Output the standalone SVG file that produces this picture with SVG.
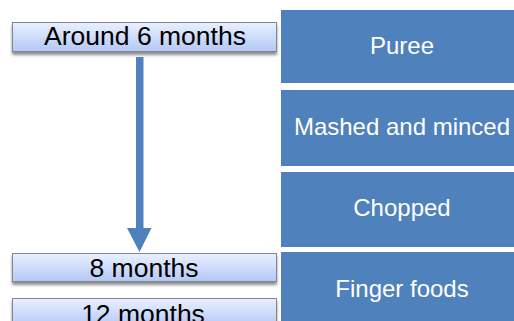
<svg xmlns="http://www.w3.org/2000/svg" width="514" height="321" viewBox="0 0 514 321">
<defs>
<linearGradient id="lg" x1="0" y1="0" x2="0" y2="1">
<stop offset="0" stop-color="#e9f0ff"/>
<stop offset="0.5" stop-color="#cfdcfb"/>
<stop offset="1" stop-color="#b3c8f3"/>
</linearGradient>
<filter id="sh" x="-5%" y="-20%" width="110%" height="160%">
<feGaussianBlur in="SourceAlpha" stdDeviation="1.5"/>
<feOffset dy="2.5" result="b"/>
<feComponentTransfer><feFuncA type="linear" slope="0.45"/></feComponentTransfer>
<feMerge><feMergeNode/><feMergeNode in="SourceGraphic"/></feMerge>
</filter>
</defs>
<style>
.lab{fill:url(#lg);stroke:#7d8799;stroke-width:1}
.lt{font-family:"Liberation Sans",Arial,sans-serif;font-size:26.5px;fill:#000;text-anchor:middle}
.blk{fill:#4f81bd}
.bt{font-family:"Liberation Sans",Arial,sans-serif;font-size:24px;fill:#fff;text-anchor:middle}
</style>
<rect width="514" height="321" fill="#fff"/>
<g id="stage-puree"><rect class="blk" x="281" y="10" width="244" height="73"/><text class="bt" x="402" y="54">Puree</text></g>
<g id="stage-mashed"><rect class="blk" x="281" y="90" width="244" height="76"/><text class="bt" x="402" y="135">Mashed and minced</text></g>
<g id="stage-chopped"><rect class="blk" x="281" y="172" width="244" height="75"/><text class="bt" x="402" y="216">Chopped</text></g>
<g id="stage-finger"><rect class="blk" x="281" y="252" width="244" height="80"/><text class="bt" x="402" y="297">Finger foods</text></g>
<g id="age-6"><rect class="lab" x="12.5" y="22.5" width="264" height="29" filter="url(#sh)"/><text class="lt" x="145" y="45">Around 6 months</text></g>
<g id="age-8"><rect class="lab" x="12.5" y="253.5" width="264" height="28" filter="url(#sh)"/><text class="lt" x="144" y="277">8 months</text></g>
<g id="age-12"><rect class="lab" x="12.5" y="298.5" width="264" height="28" filter="url(#sh)"/><text class="lt" x="143" y="323">12 months</text></g>
<g id="connectors">
<rect class="blk" x="136" y="57" width="7.5" height="172"/>
<polygon class="blk" points="127,228 151.5,228 139.5,252"/>
</g>
</svg>
